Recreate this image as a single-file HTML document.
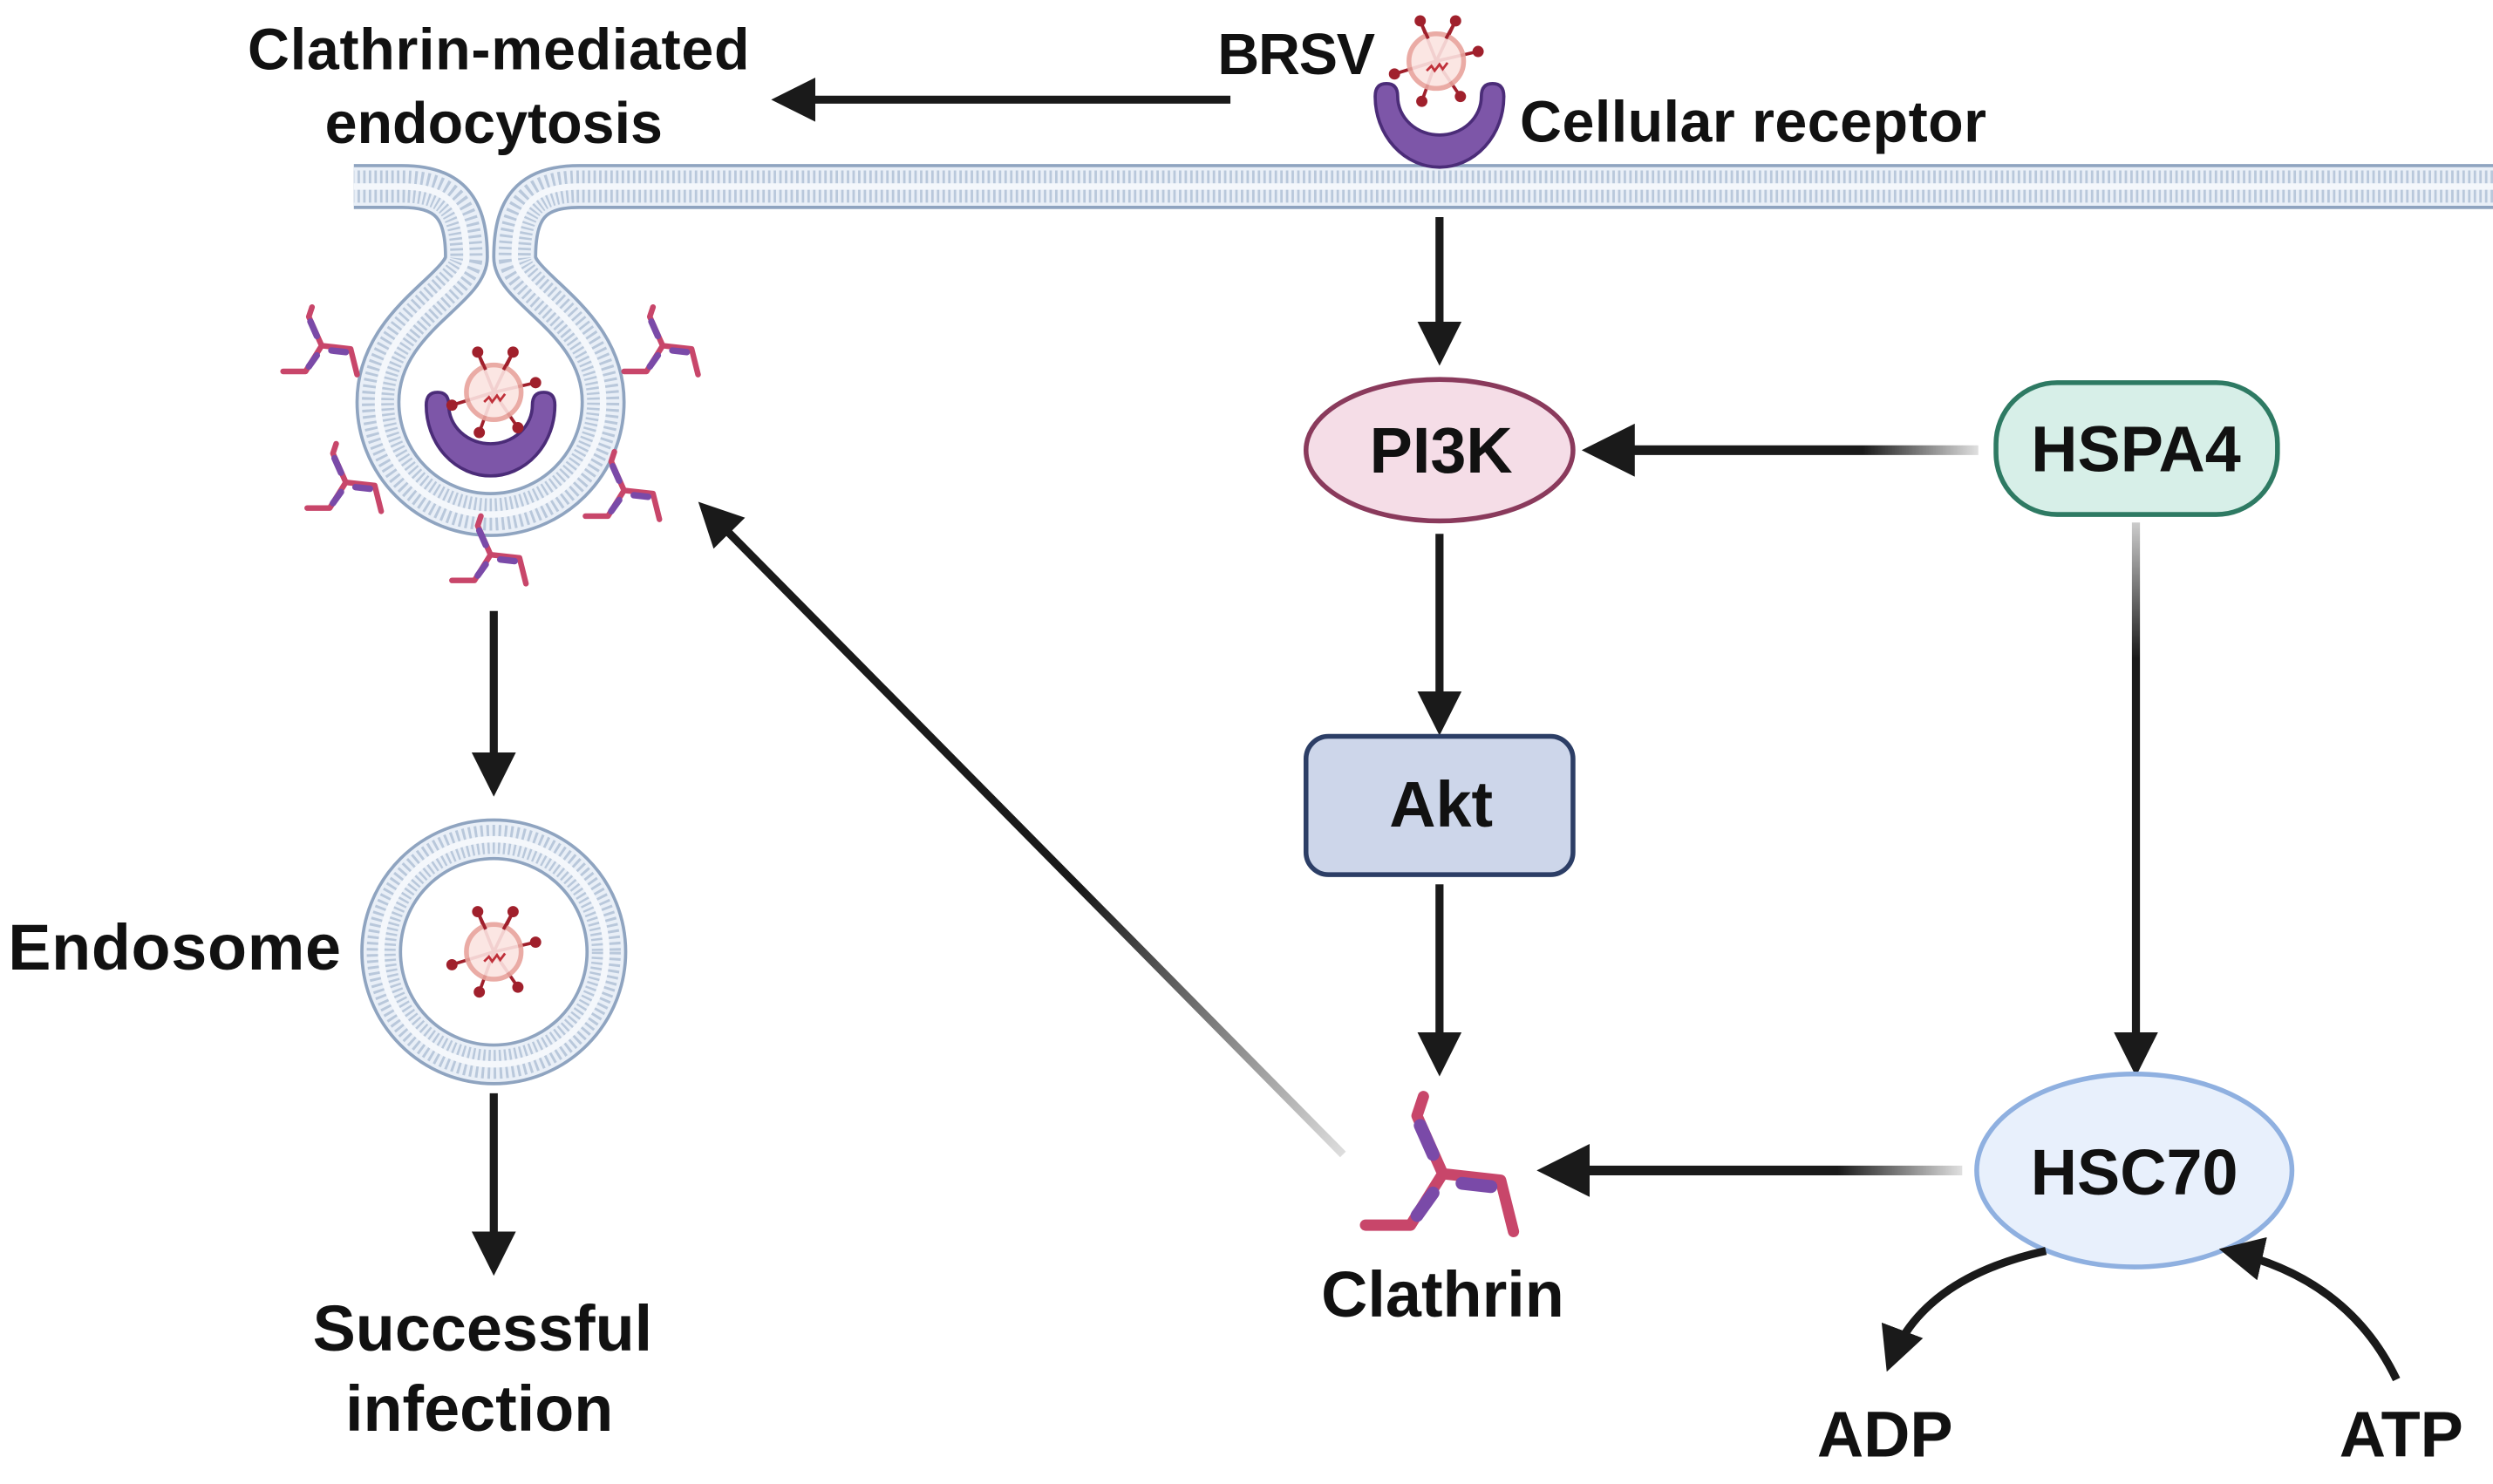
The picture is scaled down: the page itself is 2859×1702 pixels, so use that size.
<!DOCTYPE html>
<html><head><meta charset="utf-8"><style>
html,body{margin:0;padding:0;background:#fff;}
svg{display:block;}
text{font-family:"Liberation Sans",sans-serif;font-weight:bold;fill:#111;}
</style></head><body>
<svg width="2859" height="1702" viewBox="0 0 1550 923" preserveAspectRatio="none" xmlns="http://www.w3.org/2000/svg">
<defs>
<marker id="ah" viewBox="0 0 10 10" refX="8" refY="5" markerWidth="5.5" markerHeight="5.5" markerUnits="strokeWidth" orient="auto">
<path d="M0,0 L10,5 L0,10 z" fill="#1a1a1a"/></marker>
<linearGradient id="g1" x1="1230" y1="0" x2="990" y2="0" gradientUnits="userSpaceOnUse"><stop offset="0" stop-color="#e0e0e0"/><stop offset="0.3" stop-color="#1a1a1a"/><stop offset="1" stop-color="#1a1a1a"/></linearGradient>
<linearGradient id="g2" x1="1220" y1="0" x2="962" y2="0" gradientUnits="userSpaceOnUse"><stop offset="0" stop-color="#e0e0e0"/><stop offset="0.3" stop-color="#1a1a1a"/><stop offset="1" stop-color="#1a1a1a"/></linearGradient>
<linearGradient id="gd" x1="835" y1="718" x2="430" y2="308" gradientUnits="userSpaceOnUse"><stop offset="0" stop-color="#ddd"/><stop offset="0.4" stop-color="#1a1a1a"/><stop offset="1" stop-color="#1a1a1a"/></linearGradient>
<linearGradient id="gv" x1="0" y1="325" x2="0" y2="664" gradientUnits="userSpaceOnUse"><stop offset="0" stop-color="#ccc"/><stop offset="0.25" stop-color="#1a1a1a"/><stop offset="1" stop-color="#1a1a1a"/></linearGradient>
<g id="vir">
<g stroke="#a0202c" stroke-width="2" fill="#a0202c">
<line x1="0" y1="0" x2="-10" y2="-25"/><line x1="0" y1="0" x2="12" y2="-25"/>
<line x1="0" y1="0" x2="26" y2="-6"/><line x1="0" y1="0" x2="-26" y2="8"/>
<line x1="0" y1="0" x2="-9" y2="25"/><line x1="0" y1="0" x2="15" y2="22"/>
<circle cx="-10" cy="-25" r="2.5"/><circle cx="12" cy="-25" r="2.5"/><circle cx="26" cy="-6" r="2.5"/><circle cx="-26" cy="8" r="2.5"/><circle cx="-9" cy="25" r="2.5"/><circle cx="15" cy="22" r="2.5"/>
</g>
<circle r="17" fill="#fbe4e1" stroke="#e8a39c" stroke-width="3" opacity="0.9"/>
<path d="M-6,6 l3,-3 l2,3 l3,-4 l2,3 l3,-4" stroke="#c0303a" stroke-width="1.5" fill="none"/>
<g stroke="#a0202c" stroke-width="2"><line x1="-5" y1="-14" x2="-10" y2="-25"/><line x1="6" y1="-14" x2="12" y2="-25"/></g>
</g>
<g id="tri" fill="none" stroke-linecap="round" stroke-linejoin="round">
<path d="M0,0 L-8,-18 L-6,-24 M0,0 L18,2 L22,18 M0,0 L-10,16 L-24,16" stroke="#c8466a" stroke-width="3.5"/>
<path d="M-3,-6 L-7,-15 M6,3 L15,4 M-3,6 L-8,13" stroke="#7a4aa8" stroke-width="4"/>
</g>
<g id="rec"><path d="M-40,0 A40,44 0 0 0 40,0 Q40,-8 33,-8 Q26,-8 26,0 A26,24 0 0 1 -26,0 Q-26,-8 -33,-8 Q-40,-8 -40,0 Z" fill="#7d56a8" stroke="#4b2c78" stroke-width="2" stroke-linejoin="round"/></g>
</defs>

<!-- membrane -->
<path d="M1550,116 L360,116 C330,116 320,130 320,160 C320,180 375,200 375,250 A70,70 0 0 1 235,250 C235,200 290,180 290,160 C290,130 280,116 250,116 L220,116" fill="none" stroke="#8fa4c0" stroke-width="28"/>
<path d="M1550,116 L360,116 C330,116 320,130 320,160 C320,180 375,200 375,250 A70,70 0 0 1 235,250 C235,200 290,180 290,160 C290,130 280,116 250,116 L220,116" fill="none" stroke="#e9eff7" stroke-width="24"/>
<path d="M1550,116 L360,116 C330,116 320,130 320,160 C320,180 375,200 375,250 A70,70 0 0 1 235,250 C235,200 290,180 290,160 C290,130 280,116 250,116 L220,116" fill="none" stroke="#b9c8db" stroke-width="20" stroke-dasharray="1.5 2"/>
<path d="M1550,116 L360,116 C330,116 320,130 320,160 C320,180 375,200 375,250 A70,70 0 0 1 235,250 C235,200 290,180 290,160 C290,130 280,116 250,116 L220,116" fill="none" stroke="#f4f7fb" stroke-width="4"/>

<!-- top labels -->
<text x="310" y="43" font-size="36" text-anchor="middle" textLength="312">Clathrin-mediated</text>
<text x="307" y="89" font-size="36" text-anchor="middle">endocytosis</text>
<path d="M765,62 L485,62" stroke="#1a1a1a" stroke-width="5" marker-end="url(#ah)"/>
<text x="757" y="46" font-size="36" textLength="98">BRSV</text>
<use href="#vir" x="893" y="38"/>
<use href="#rec" x="895" y="60"/>
<text x="945" y="88" font-size="36" textLength="290">Cellular receptor</text>

<!-- bulb content -->
<use href="#rec" x="305" y="252"/>
<use href="#vir" x="307" y="244"/>
<use href="#tri" x="200" y="215"/>
<use href="#tri" x="412" y="215"/>
<use href="#tri" x="215" y="300"/>
<use href="#tri" x="388" y="305"/>
<use href="#tri" x="305" y="345"/>

<!-- left column -->
<line x1="307" y1="380" x2="307" y2="490" stroke="#1a1a1a" stroke-width="5" marker-end="url(#ah)"/>
<circle cx="307" cy="592" r="70" fill="none" stroke="#8fa4c0" stroke-width="26"/>
<circle cx="307" cy="592" r="70" fill="none" stroke="#e9eff7" stroke-width="22"/>
<circle cx="307" cy="592" r="70" fill="none" stroke="#b9c8db" stroke-width="18" stroke-dasharray="1.5 2"/>
<circle cx="307" cy="592" r="70" fill="none" stroke="#f4f7fb" stroke-width="4"/>
<use href="#vir" x="307" y="592"/>
<text x="5" y="603" font-size="40" textLength="207">Endosome</text>
<line x1="307" y1="680" x2="307" y2="788" stroke="#1a1a1a" stroke-width="5" marker-end="url(#ah)"/>
<text x="300" y="840" font-size="40" text-anchor="middle">Successful</text>
<text x="298" y="890" font-size="40" text-anchor="middle">infection</text>

<!-- center column -->
<line x1="895" y1="135" x2="895" y2="222" stroke="#1a1a1a" stroke-width="5" marker-end="url(#ah)"/>
<ellipse cx="895" cy="280" rx="83" ry="44" fill="#f5dde7" stroke="#8a3a5c" stroke-width="3"/>
<text x="896" y="294" font-size="40" text-anchor="middle">PI3K</text>
<line x1="895" y1="332" x2="895" y2="452" stroke="#1a1a1a" stroke-width="5" marker-end="url(#ah)"/>
<rect x="812" y="458" width="166" height="86" rx="14" fill="#cdd6ea" stroke="#2c3e66" stroke-width="3"/>
<text x="896" y="514" font-size="40" text-anchor="middle">Akt</text>
<line x1="895" y1="550" x2="895" y2="664" stroke="#1a1a1a" stroke-width="5" marker-end="url(#ah)"/>
<g transform="translate(897,730) scale(2)"><use href="#tri"/></g>
<text x="897" y="819" font-size="40" text-anchor="middle">Clathrin</text>

<!-- right column -->
<rect x="1241" y="238" width="175" height="82" rx="38" fill="#d7efe8" stroke="#2e7a63" stroke-width="3"/>
<text x="1328" y="293" font-size="40" text-anchor="middle">HSPA4</text>
<path d="M1230,280 L990,280" stroke="url(#g1)" stroke-width="6" marker-end="url(#ah)"/>
<line x1="1328" y1="325" x2="1328" y2="664" stroke="url(#gv)" stroke-width="5" marker-end="url(#ah)"/>
<ellipse cx="1327" cy="728" rx="98" ry="60" fill="#e8f0fc" stroke="#8fb0e0" stroke-width="3"/>
<text x="1327" y="743" font-size="40" text-anchor="middle">HSC70</text>
<path d="M1220,728 L962,728" stroke="url(#g2)" stroke-width="6" marker-end="url(#ah)"/>
<path d="M835,718 L438,316" stroke="url(#gd)" stroke-width="5" marker-end="url(#ah)"/>
<path d="M1272,778 Q1195,795 1175,848" fill="none" stroke="#1a1a1a" stroke-width="5" marker-end="url(#ah)"/>
<path d="M1490,858 Q1460,795 1385,778" fill="none" stroke="#1a1a1a" stroke-width="5" marker-end="url(#ah)"/>
<text x="1172" y="906" font-size="40" text-anchor="middle">ADP</text>
<text x="1493" y="906" font-size="40" text-anchor="middle">ATP</text>
</svg>
</body></html>
